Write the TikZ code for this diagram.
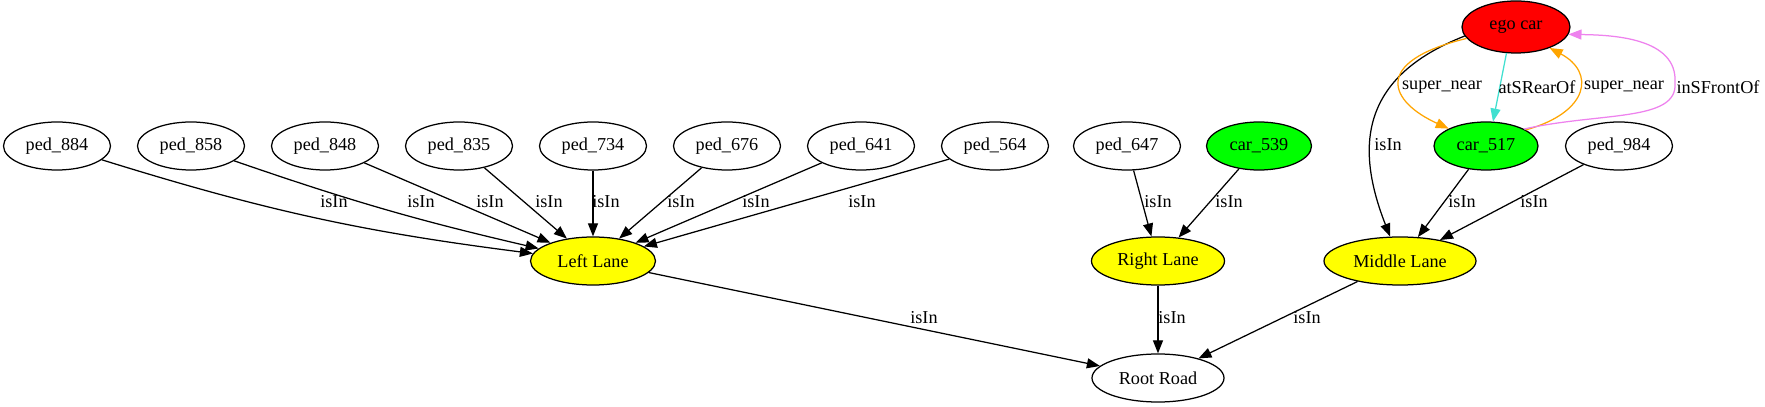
\documentclass[tikz,border=0pt]{standalone}
\usepackage{fontspec}
\setmainfont{Liberation Serif}
\usetikzlibrary{arrows.meta,shapes.geometric}
\definecolor{gvred}{HTML}{FF0000}
\definecolor{gvgreen}{HTML}{00FF00}
\definecolor{gvyellow}{HTML}{FFFF00}
\definecolor{gvorange}{HTML}{FFA500}
\definecolor{gvturq}{HTML}{40E0D0}
\definecolor{gvviolet}{HTML}{EE82EE}
\begin{document}
\begin{tikzpicture}[x=1pt,y=1pt,
  gnode/.style={ellipse,draw,line width=1.25pt,inner sep=0pt,minimum width=107pt,minimum height=48pt,font=\fontsize{18.2}{22}\selectfont},
  lane/.style={gnode,fill=gvyellow},
  car/.style={gnode,fill=gvgreen},
  edge/.style={line width=1.25pt,-{Triangle[length=13pt,width=10pt]}},
  lbl/.style={font=\fontsize{18.2}{22}\selectfont,inner sep=0pt}]
\fill[white] (0,0) rectangle (1765,407);
\useasboundingbox (0,0) rectangle (1765,407);
% nodes
\node[gnode] (p884) at (57,261) {ped\_884};
\node[gnode] (p858) at (191,261) {ped\_858};
\node[gnode] (p848) at (325,261) {ped\_848};
\node[gnode] (p835) at (459,261) {ped\_835};
\node[gnode] (p734) at (593,261) {ped\_734};
\node[gnode] (p676) at (727,261) {ped\_676};
\node[gnode] (p641) at (861,261) {ped\_641};
\node[gnode] (p564) at (995,261) {ped\_564};
\node[gnode] (p647) at (1127,261) {ped\_647};
\node[car,minimum width=105pt] (c539) at (1259,261) {car\_539};
\node[car,minimum width=104pt] (c517) at (1486,261) {car\_517};
\node[gnode] (p984) at (1619,261) {ped\_984};
\node[gnode,fill=gvred,minimum width=108pt,minimum height=52pt] (ego) at (1516,380) {ego car};
\node[lane,minimum width=125pt] (ll) at (593,146) {Left Lane};
\node[lane,minimum width=133pt] (rl) at (1158,146) {Right Lane};
\node[lane,minimum width=152pt] (ml) at (1400,146) {Middle Lane};
\node[gnode,minimum width=132pt] (rr) at (1158,29) {Root Road};
% edges
\draw[edge] (p884) to[bend right=5] (ll);
\draw[edge] (p858) to[bend right=3] (ll);
\draw[edge] (p848) -- (ll);
\draw[edge] (p835) -- (ll);
\draw[edge] (p734) -- (ll);
\draw[edge] (p676) -- (ll);
\draw[edge] (p641) -- (ll);
\draw[edge] (p564) -- (ll);
\draw[edge] (p647) -- (rl);
\draw[edge] (c539) -- (rl);
\draw[edge] (c517) -- (ml);
\draw[edge] (p984) -- (ml);
\draw[edge] (ego.190) .. controls (1360,330) and (1355,260) .. (ml.112);
\draw[edge] (ll) -- (rr);
\draw[edge] (rl) -- (rr);
\draw[edge] (ml) -- (rr);
\draw[edge,gvorange] (ego.193) .. controls (1370,345) and (1390,305) .. (c517.155);
\draw[edge,gvturq] (ego.250) -- (c517.74);
\draw[edge,gvorange] (c517.22) .. controls (1590,295) and (1595,335) .. (ego.-32);
\draw[edge,gvviolet] (c517.24) .. controls (1600,295) and (1678,285) .. (1675,324) .. controls (1678,370) and (1610,372) .. (ego.-8);
% labels
\node[lbl] (l884) at (334,205) {isIn};
\node[lbl] (l858) at (421,205) {isIn};
\node[lbl] (l848) at (490,205) {isIn};
\node[lbl] (l835) at (549,205) {isIn};
\node[lbl] (l734) at (606,205) {isIn};
\node[lbl] (l676) at (681,205) {isIn};
\node[lbl] (l641) at (756,205) {isIn};
\node[lbl] (l564) at (862,205) {isIn};
\node[lbl] (l647) at (1158,205) {isIn};
\node[lbl] (l539) at (1229,205) {isIn};
\node[lbl] (lego) at (1388,262) {isIn};
\node[lbl] (l517) at (1462,205) {isIn};
\node[lbl] (l984) at (1534,205) {isIn};
\node[lbl] (lll) at (924,89) {isIn};
\node[lbl] (lrl) at (1172,89) {isIn};
\node[lbl] (lml) at (1307,89) {isIn};
\node[lbl] (sn1) at (1442,320) {super\_near};
\node[lbl] (ats) at (1537,320) {atSRearOf};
\node[lbl] (sn2) at (1624,320) {super\_near};
\node[lbl] (ins) at (1718,320) {inSFrontOf};
\end{tikzpicture}
\end{document}
